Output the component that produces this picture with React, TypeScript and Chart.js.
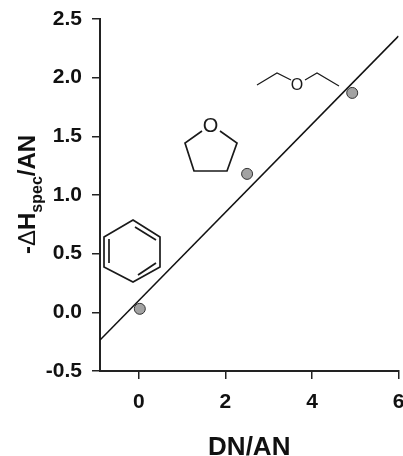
import React, { useEffect, useRef } from "react";
import { Chart, registerables } from "chart.js";

Chart.register(...registerables);

const pointX = [0.02, 2.5, 4.93];
const pointY = [0.03, 1.18, 1.87];
const fitX = [-0.9, 6];
const fitY = [-0.236, 2.355];
const xTicks = [0, 2, 4, 6];
const yTicks = [-0.5, 0, 0.5, 1, 1.5, 2, 2.5];
const xTitle = "DN/AN";

const FONT = '"Liberation Sans", Arial, sans-serif';

type P = [number, number];
const poly = (ctx: CanvasRenderingContext2D, pts: P[], close = false) => {
  ctx.beginPath();
  pts.forEach(([x, y], i) => (i ? ctx.lineTo(x, y) : ctx.moveTo(x, y)));
  if (close) ctx.closePath();
  ctx.stroke();
};

const decorations = {
  id: "decorations",
  afterDraw(chart: Chart) {
    const ctx = chart.ctx;
    ctx.save();
    ctx.strokeStyle = "#1a1a1a";
    ctx.fillStyle = "#1a1a1a";
    ctx.lineWidth = 1.7;
    // benzene
    poly(ctx, [[133, 220], [160, 237], [160, 267], [133, 282], [104, 267], [104, 237]], true);
    poly(ctx, [[109, 239], [109, 263]]);
    poly(ctx, [[138, 275], [156, 263]]);
    poly(ctx, [[135, 227], [156, 240]]);
    // tetrahydrofuran
    poly(ctx, [[202, 131], [185, 143], [194, 171], [227, 171], [237, 143], [220, 131]]);
    // diethyl ether
    ctx.lineWidth = 1.2;
    poly(ctx, [[257, 85], [277, 73], [291, 80]]);
    poly(ctx, [[305, 80], [317, 73], [339, 86]]);
    ctx.textAlign = "center";
    ctx.textBaseline = "middle";
    ctx.font = `20px ${FONT}`;
    ctx.fillText("O", 210.5, 126);
    ctx.font = `16px ${FONT}`;
    ctx.fillText("O", 297, 86);

    // y axis title with subscript
    ctx.fillStyle = "#111";
    ctx.translate(35, 254);
    ctx.rotate(-Math.PI / 2);
    ctx.textAlign = "left";
    ctx.textBaseline = "alphabetic";
    const big = `bold 24px ${FONT}`;
    const small = `bold 16px ${FONT}`;
    const parts: [string, string, number][] = [
      ["-", big, 0],
      ["\u0394", `24px ${FONT}`, 0],
      ["H", big, 0],
      ["spec", small, 7],
      ["/AN", big, 0],
    ];
    let x = 0;
    for (const [text, font, dy] of parts) {
      ctx.font = font;
      ctx.fillText(text, x, dy);
      x += ctx.measureText(text).width;
    }
    ctx.restore();
  },
};

const noPadding = () => ({ left: 0, right: 0, top: 0, bottom: 0 });

export default function App() {
  const ref = useRef<HTMLCanvasElement>(null);
  useEffect(() => {
    document.body.style.margin = "0";
    document.body.style.background = "#fff";
    const chart = new Chart(ref.current!, {
      type: "scatter",
      data: {
        datasets: [
          {
            label: "Fit",
            data: fitX.map((x, i) => ({ x, y: fitY[i] })),
            showLine: true,
            borderColor: "#111",
            borderWidth: 1.6,
            pointRadius: 0,
            order: 2,
          },
          {
            label: "Solvents",
            data: pointX.map((x, i) => ({ x, y: pointY[i] })),
            showLine: false,
            backgroundColor: "#a2a2a2",
            borderColor: "#333",
            borderWidth: 1,
            pointRadius: 5.5,
            order: 1,
          },
        ],
      },
      options: {
        animation: false,
        responsive: false,
        devicePixelRatio: 1,
        layout: { padding: { top: 19, right: 0, bottom: 0, left: 0 } },
        plugins: { legend: { display: false }, tooltip: { enabled: false } },
        scales: {
          x: {
            type: "linear",
            min: -0.9,
            max: 6,
            afterBuildTicks: (s: any) => {
              s.ticks = xTicks.map((value) => ({ value }));
            },
            afterFit: (s: any) => {
              s.height = 85;
              s.paddingLeft = 0;
              s.paddingRight = 0;
              s.getPadding = noPadding;
            },
            grid: { drawOnChartArea: false, color: "#222", lineWidth: 1.5, tickLength: 8 },
            border: { color: "#222", width: 2 },
            ticks: {
              color: "#111",
              font: { family: FONT, weight: "bold", size: 21 },
              maxRotation: 0,
              autoSkip: false,
              padding: 11,
            },
            title: {
              display: true,
              text: xTitle,
              color: "#111",
              font: { family: FONT, weight: "bold", size: 26 },
              padding: { top: 16, bottom: -7 },
            },
          },
          y: {
            type: "linear",
            min: -0.5,
            max: 2.5,
            afterBuildTicks: (s: any) => {
              s.ticks = yTicks.map((value) => ({ value }));
            },
            afterFit: (s: any) => {
              s.width = 100;
              s.paddingTop = 0;
              s.paddingBottom = 0;
              s.getPadding = noPadding;
            },
            grid: { drawOnChartArea: false, color: "#222", lineWidth: 1.5, tickLength: 8 },
            border: { color: "#222", width: 2 },
            ticks: {
              color: "#111",
              font: { family: FONT, weight: "bold", size: 21 },
              padding: 10,
              autoSkip: false,
              callback: (v: any) => Number(v).toFixed(1),
            },
          },
        },
      },
      plugins: [decorations],
    } as any);
    return () => chart.destroy();
  }, []);
  return (
    <div style={{ width: 403, height: 456, overflow: "hidden" }}>
      <canvas ref={ref} width={405} height={456} style={{ display: "block" }} />
    </div>
  );
}
